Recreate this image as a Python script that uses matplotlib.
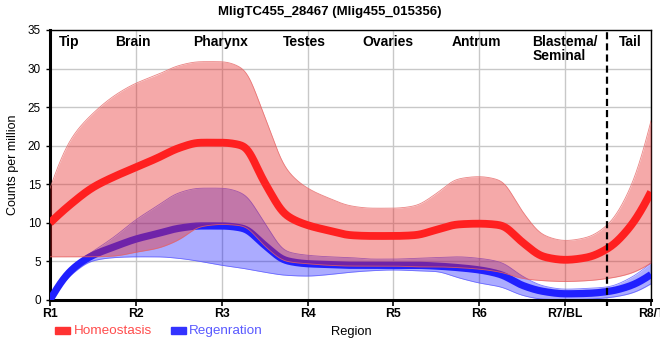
import numpy as np
import matplotlib
matplotlib.use("Agg")
import matplotlib.pyplot as plt
from matplotlib.patches import Rectangle

plt.rcParams['font.family'] = ['Liberation Sans', 'DejaVu Sans']

# ---------------- data ----------------
title = "MligTC455_28467 (Mlig455_015356)"
tick_labels = ["R1", "R2", "R3", "R4", "R5", "R6", "R7/BL", "R8/T"]
regions = ["Tip", "Brain", "Pharynx", "Testes", "Ovaries", "Antrum", "Blastema/\nSeminal", "Tail"]
region_pos = [1.22, 1.97, 2.99, 3.96, 4.94, 5.97, 7.0, 7.76]
boundary = 7.49

pos = [1, 1.25, 1.5, 1.75, 2, 2.25, 2.5, 2.75, 3, 3.25, 3.5, 3.75, 4, 4.25, 4.5,
       4.75, 5, 5.25, 5.5, 5.75, 6, 6.25, 6.5, 6.75, 7, 7.25, 7.5, 7.75, 8]

homeo_mean = [10.0, 12.5, 14.6, 16.0, 17.2, 18.4, 19.7, 20.4, 20.4, 20.0, 15.2, 11.0, 9.7, 9.0, 8.4,
              8.3, 8.3, 8.4, 9.1, 9.8, 9.9, 9.7, 7.5, 5.6, 5.2, 5.5, 6.7, 9.4, 14.0]
homeo_upper = [14.5, 21.0, 24.2, 26.5, 28.1, 29.2, 30.4, 30.9, 30.9, 30.0, 23.8, 17.0, 14.5, 13.2, 12.2,
               11.9, 11.9, 12.2, 13.8, 15.7, 16.0, 15.5, 11.5, 8.4, 7.7, 8.1, 9.8, 14.3, 23.2]
homeo_lower = [5.6, 5.6, 5.6, 5.7, 6.2, 6.7, 7.8, 9.5, 9.8, 9.6, 7.0, 5.0, 4.7, 4.5, 4.4,
               4.4, 4.4, 4.3, 4.3, 4.2, 4.0, 3.6, 2.8, 2.5, 2.4, 2.5, 2.8, 3.4, 4.8]

regen_mean = [0.0, 3.9, 5.8, 6.9, 7.9, 8.6, 9.3, 9.6, 9.6, 9.3, 7.1, 5.1, 4.7, 4.6, 4.5,
              4.5, 4.5, 4.5, 4.4, 4.2, 3.9, 3.3, 1.9, 1.1, 0.8, 0.85, 1.1, 1.8, 3.3]
regen_upper = [0.3, 4.3, 6.3, 8.2, 10.4, 12.2, 13.9, 14.5, 14.5, 13.8, 10.0, 6.3, 5.8, 5.6, 5.5,
               5.3, 5.3, 5.4, 5.5, 5.6, 5.4, 4.9, 3.1, 1.8, 1.4, 1.5, 1.7, 2.8, 4.8]
regen_lower = [0.0, 3.3, 5.1, 5.5, 5.6, 5.6, 5.4, 5.0, 4.5, 4.1, 3.6, 3.2, 3.1, 3.3, 3.6,
               3.8, 3.9, 3.8, 3.7, 2.9, 2.2, 1.7, 0.6, 0.1, 0.05, 0.1, 0.3, 0.8, 2.1]


def pchip(x, y, xn):
    x = np.asarray(x, float); y = np.asarray(y, float)
    h = np.diff(x); d = np.diff(y) / h
    n = len(x); m = np.zeros(n)
    for k in range(1, n - 1):
        if d[k - 1] * d[k] > 0:
            w1 = 2 * h[k] + h[k - 1]; w2 = h[k] + 2 * h[k - 1]
            m[k] = (w1 + w2) / (w1 / d[k - 1] + w2 / d[k])
    def end(h0, h1, d0, d1):
        mm = ((2 * h0 + h1) * d0 - h0 * d1) / (h0 + h1)
        if np.sign(mm) != np.sign(d0):
            mm = 0.0
        elif np.sign(d0) != np.sign(d1) and abs(mm) > abs(3 * d0):
            mm = 3 * d0
        return mm
    m[0] = end(h[0], h[1], d[0], d[1])
    m[-1] = end(h[-1], h[-2], d[-1], d[-2])
    xn = np.asarray(xn, float)
    idx = np.clip(np.searchsorted(x, xn) - 1, 0, n - 2)
    t = (xn - x[idx]) / h[idx]
    h00 = 2 * t**3 - 3 * t**2 + 1; h10 = t**3 - 2 * t**2 + t
    h01 = -2 * t**3 + 3 * t**2; h11 = t**3 - t**2
    return h00 * y[idx] + h10 * h[idx] * m[idx] + h01 * y[idx + 1] + h11 * h[idx] * m[idx + 1]


STEP = 0.005
xs = np.arange(1, 8 + STEP / 2, STEP)


def smooth_curve(x, y, sigma=0.05):
    npad = int(4 * sigma / STEP)
    xp = np.arange(1 - npad * STEP, 8 + npad * STEP + STEP / 2, STEP)
    yp = pchip(x, y, np.clip(xp, 1, 8))
    # linear extension beyond the ends
    s0 = (yp[npad + 4] - yp[npad]) / (4 * STEP)
    s1 = (yp[-npad - 1] - yp[-npad - 5]) / (4 * STEP)
    left = xp < 1; right = xp > 8
    yp[left] = yp[npad] + s0 * (xp[left] - 1)
    yp[right] = yp[-npad - 1] + s1 * (xp[right] - 8)
    k = np.arange(-npad, npad + 1) * STEP
    g = np.exp(-0.5 * (k / sigma) ** 2); g /= g.sum()
    ys = np.convolve(yp, g, mode='valid')
    return np.maximum(ys[:len(xs)], 0)


fig = plt.figure(figsize=(6.6, 3.6), dpi=100)
ax = fig.add_axes([50 / 660, 60 / 360, 601 / 660, 270 / 360])

ax.set_xlim(1, 8)
ax.set_ylim(0, 35)
ax.set_xticks(range(1, 9))
ax.set_xticklabels(tick_labels, fontweight='bold', fontsize=8.8)
ax.set_yticks(range(0, 36, 5))
ax.tick_params(axis='y', labelsize=8.5, length=3, width=1)
ax.tick_params(axis='x', length=4, width=1.2, pad=2)
ax.grid(True, color='#c8c8c8', linewidth=1)
ax.set_axisbelow(True)

for s in ['top', 'right']:
    ax.spines[s].set_linewidth(1)
for s in ['left', 'bottom']:
    ax.spines[s].set_linewidth(2.2)

# regeneration band + line
ru = smooth_curve(pos, regen_upper); rl = smooth_curve(pos, regen_lower); rm = smooth_curve(pos, regen_mean, 0.04)
ax.fill_between(xs, rl, ru, color=(0.0, 0.0, 1.0), alpha=0.33, linewidth=0, zorder=2)
ax.plot(xs, ru, color=(0.35, 0.35, 1.0), lw=0.6, alpha=0.8, zorder=2)
ax.plot(xs, rl, color=(0.35, 0.35, 1.0), lw=0.6, alpha=0.8, zorder=2)
ax.plot(xs, rm, color='#2020ff', lw=5.2, solid_capstyle='butt', zorder=3)

# homeostasis band + line
hu = smooth_curve(pos, homeo_upper); hl = smooth_curve(pos, homeo_lower); hm = smooth_curve(pos, homeo_mean, 0.04)
ax.fill_between(xs, hl, hu, color=(0.9, 0.16, 0.16), alpha=0.4, linewidth=0, zorder=4)
ax.plot(xs, hu, color=(0.9, 0.4, 0.4), lw=0.6, alpha=0.8, zorder=4)
ax.plot(xs, hl, color=(0.9, 0.4, 0.4), lw=0.6, alpha=0.8, zorder=4)
ax.plot(xs, hm, color='#ff2020', lw=5.6, solid_capstyle='butt', zorder=5)

# boundary dashed line
ax.plot([boundary, boundary], [-0.8, 35], color='black', lw=1.6,
        linestyle=(0, (3.2, 1.8)), clip_on=False, zorder=6)

# region labels
for name, p in zip(regions, region_pos):
    ax.text(p, 34.3, name, ha='center', va='top', fontweight='bold', fontsize=10,
            multialignment='left', linespacing=1.0, zorder=7)

ax.set_ylabel("Counts per million", fontsize=9, labelpad=6)
fig.suptitle(title, fontweight='bold', fontsize=9.5, y=1 - 11.5 / 360, va='center')
fig.text(351 / 660, 1 - 332 / 360, "Region", ha='center', va='center', fontsize=9.3)

# legend
fig.patches.append(Rectangle((55 / 660, 1 - 334 / 360), 15 / 660, 7 / 360,
                             transform=fig.transFigure, color='#ff3333', figure=fig))
fig.text(74 / 660, 1 - 331 / 360, "Homeostasis", ha='left', va='center', fontsize=9.7, color='#ff4d4d')
fig.patches.append(Rectangle((171 / 660, 1 - 334 / 360), 15 / 660, 7 / 360,
                             transform=fig.transFigure, color='#3333ff', figure=fig))
fig.text(189 / 660, 1 - 331 / 360, "Regenration", ha='left', va='center', fontsize=9.7, color='#5a5aff')

fig.savefig("out.png", dpi=100)
